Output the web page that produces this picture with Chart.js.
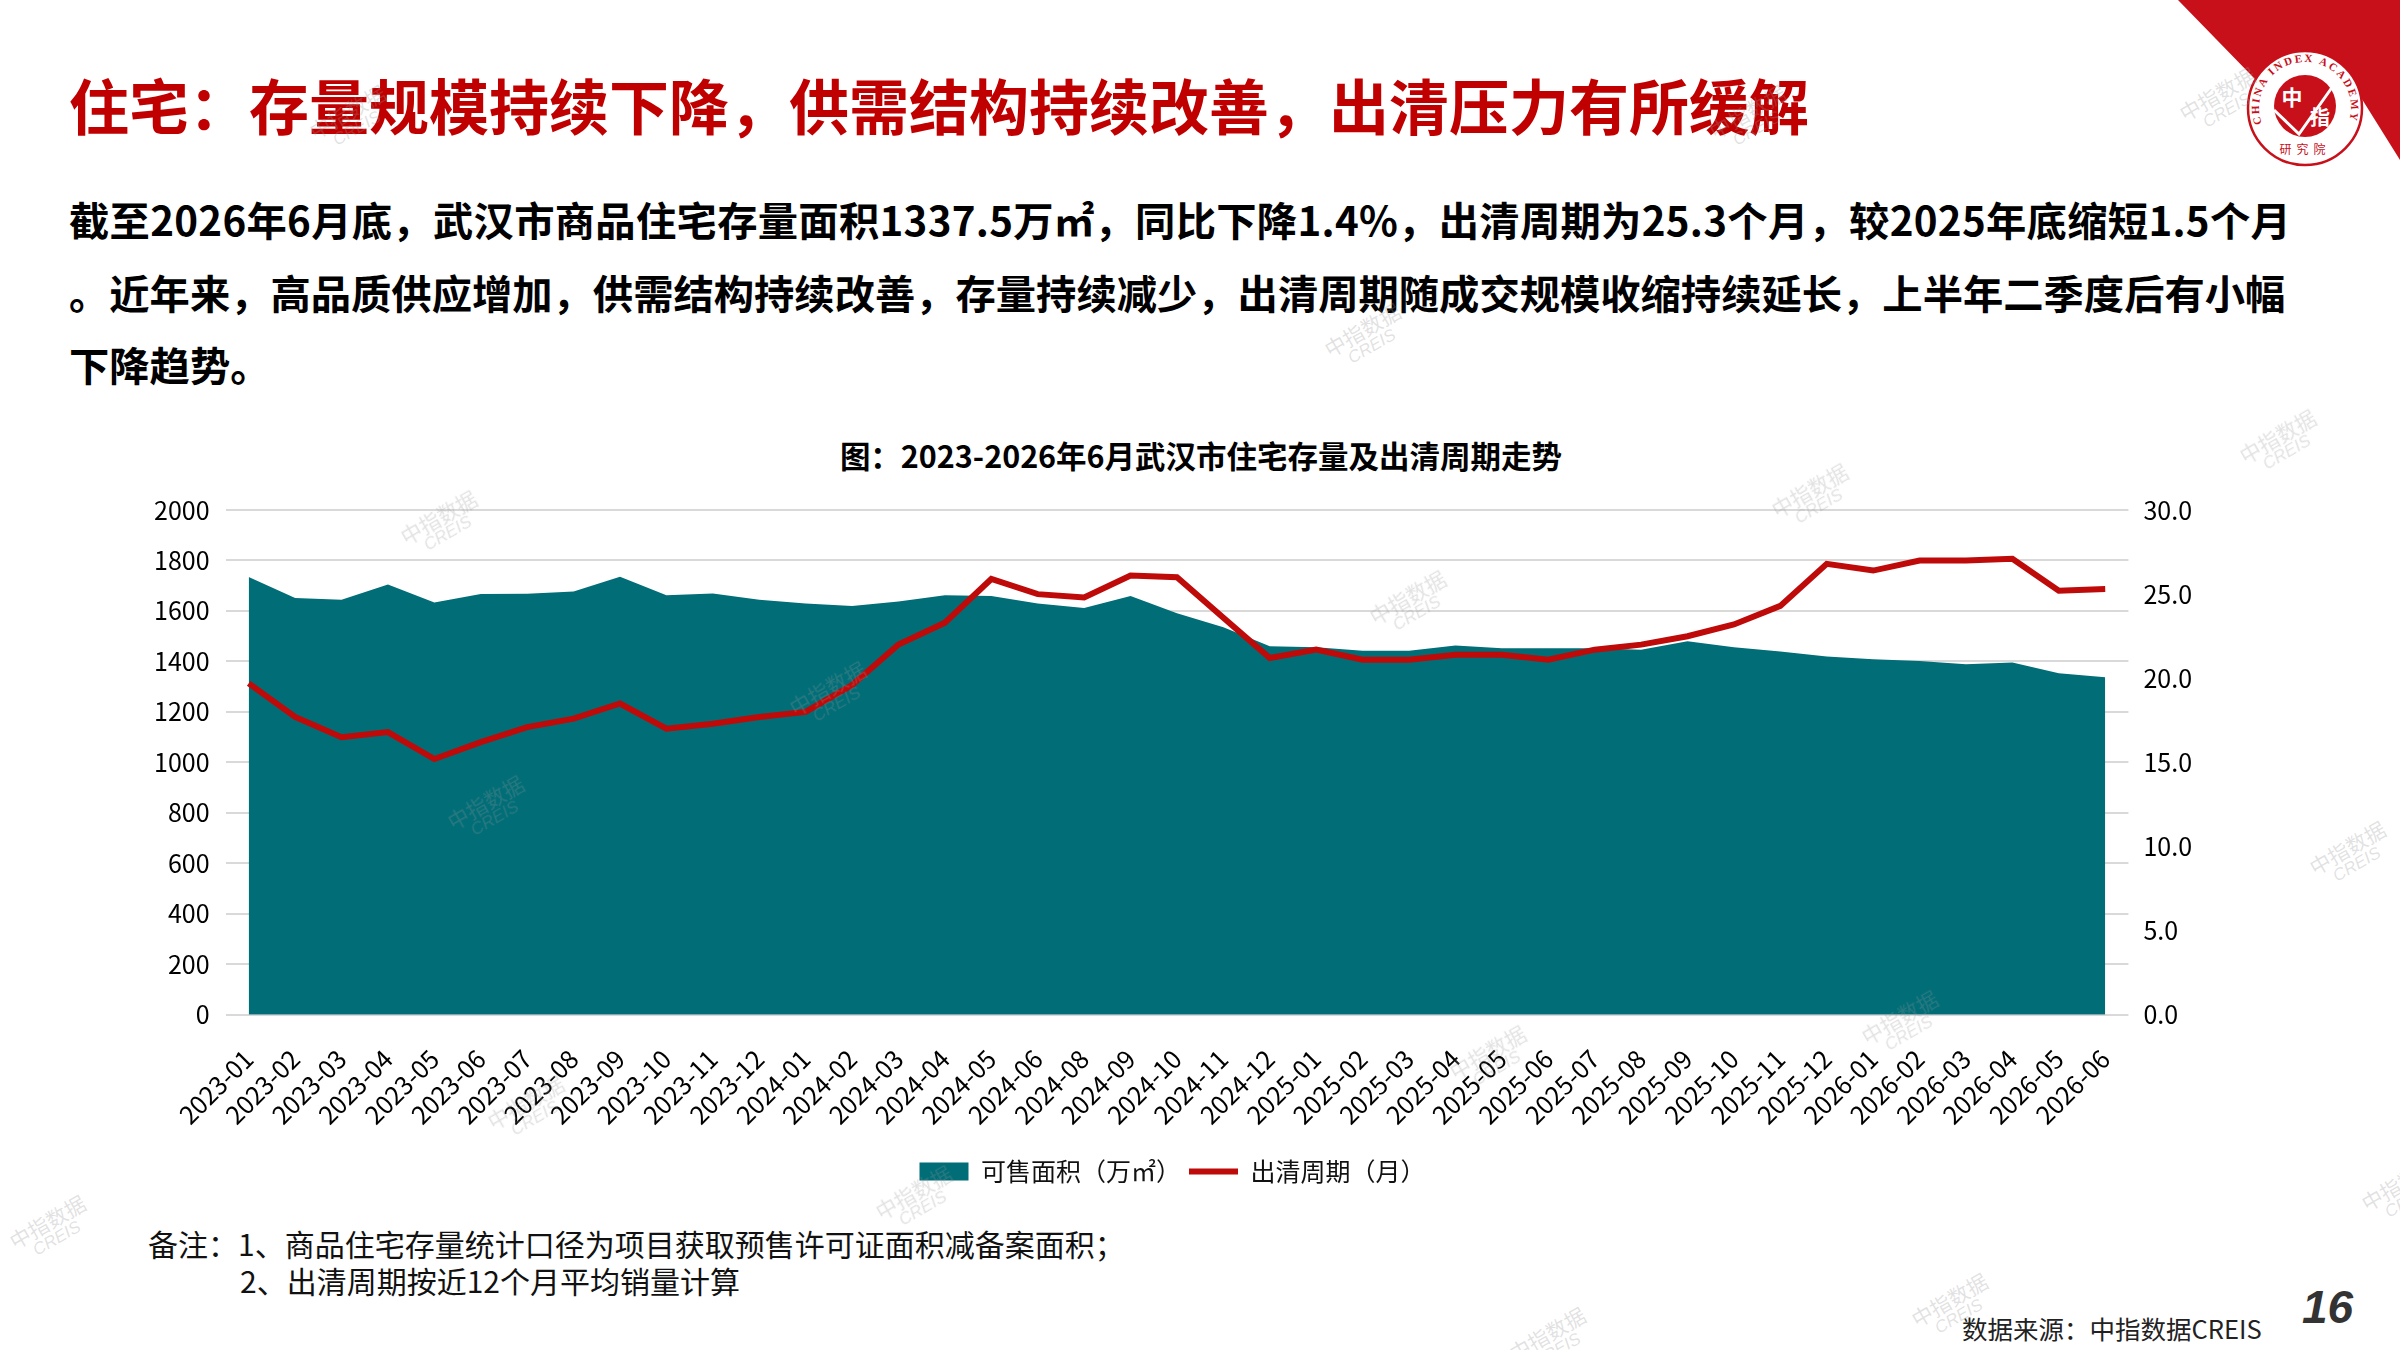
<!DOCTYPE html>
<html lang="zh-CN">
<head>
<meta charset="utf-8">
<title>武汉市住宅存量及出清周期走势</title>
<script src="https://cdn.jsdelivr.net/npm/chart.js@4.4.1/dist/chart.umd.min.js"></script>
<style>
html, body { margin: 0; padding: 0; background: #fff; }
body { width: 2400px; height: 1350px; position: relative; overflow: hidden; font-family: "Noto Sans CJK SC", sans-serif; }
.headline { position: absolute; left: 69px; top: 68px; font-size: 60px; font-weight: 700; color: #C00000; line-height: 72px; white-space: nowrap; }
.para { position: absolute; left: 69px; font-size: 40.3px; font-weight: 700; color: #000; line-height: 50px; white-space: nowrap; }
.chart-title { position: absolute; left: 0; width: 2400px; top: 436px; text-align: center; font-size: 30.5px; font-weight: 700; color: #000; line-height: 38px; }
.chart-title span { position: relative; left: 0; }
.note { position: absolute; font-size: 30px; color: #111; line-height: 36px; white-space: nowrap; }
.source { position: absolute; left: 1962px; top: 1312px; font-size: 25.5px; color: #222; line-height: 32px; white-space: nowrap; }
.page { position: absolute; left: 2302px; top: 1280px; font-family: "Liberation Sans", Arial, sans-serif; font-size: 46px; font-weight: 700; font-style: italic; color: #333; }
#chartBox { position: absolute; left: 110px; top: 470px; width: 2130px; height: 734px; }
.logo { position: absolute; left: 2150px; top: 0; }
.wm { position: absolute; color: rgba(150,150,150,0.28); font-size: 21px; line-height: 20px; text-align: center; transform: rotate(-30deg); pointer-events: none; white-space: nowrap; }
.wm span { display: block; font-family: "Liberation Sans", Arial, sans-serif; font-style: italic; font-size: 17px; }
</style>
</head>
<body>

<svg class="logo" width="250" height="200" viewBox="0 0 250 200">
  <polygon points="28,0 250,0 250,160 200,80 140,115" fill="#C8101A"/>
  <circle cx="155" cy="108" r="57" fill="#fff" stroke="#C8101A" stroke-width="2.5"/>
  <defs><path id="ring" d="M 113.3 127.4 A 46 46 0 1 1 196.7 127.4"/></defs>
  <text font-family="Liberation Serif, serif" font-weight="700" font-size="11" fill="#C8101A">
    <textPath href="#ring" startOffset="4" textLength="172" lengthAdjust="spacing">CHINA INDEX ACADEMY</textPath>
  </text>
  <circle cx="155" cy="106" r="31" fill="#C8101A"/>
  <polyline points="124,110 149,134 183,86" fill="none" stroke="#fff" stroke-width="3"/>
  <text x="142" y="105" font-size="21" font-weight="700" fill="#fff" text-anchor="middle">中</text>
  <text x="170" y="125" font-size="20" font-weight="700" fill="#fff" text-anchor="middle">指</text>
  <text x="155" y="154" font-size="12" fill="#C8101A" text-anchor="middle" letter-spacing="5">研究院</text>
</svg>

<div class="headline">住宅：存量规模持续下降，供需结构持续改善，出清压力有所缓解</div>
<div class="para" style="top:194px; letter-spacing:0.3px">截至2026年6月底，武汉市商品住宅存量面积1337.5万㎡，同比下降1.4%，出清周期为25.3个月，较2025年底缩短1.5个月</div>
<div class="para" style="top:267px">。近年来，高品质供应增加，供需结构持续改善，存量持续减少，出清周期随成交规模收缩持续延长，上半年二季度后有小幅</div>
<div class="para" style="top:339px">下降趋势。</div>

<div class="chart-title" id="chartTitle"></div>
<div id="chartBox"><canvas id="stockChart"></canvas></div>

<div class="note" style="left:148px; top:1225px">备注：1、商品住宅存量统计口径为项目获取预售许可证面积减备案面积；</div>
<div class="note" style="left:240px; top:1262px">2、出清周期按近12个月平均销量计算</div>
<div class="source">数据来源：中指数据CREIS</div>
<div class="page">16</div>

<script>
// months on the x axis (2024-07 is missing in the source chart)
const months = [
    "2023-01", "2023-02", "2023-03", "2023-04", "2023-05", "2023-06",
    "2023-07", "2023-08", "2023-09", "2023-10", "2023-11", "2023-12",
    "2024-01", "2024-02", "2024-03", "2024-04", "2024-05", "2024-06",
    "2024-08", "2024-09", "2024-10", "2024-11", "2024-12",
    "2025-01", "2025-02", "2025-03", "2025-04", "2025-05", "2025-06",
    "2025-07", "2025-08", "2025-09", "2025-10", "2025-11", "2025-12",
    "2026-01", "2026-02", "2026-03", "2026-04", "2026-05", "2026-06"
];

// 可售面积 (万㎡)
const stockArea = [
    1735, 1651, 1644, 1705, 1634, 1667, 1668, 1677, 1736, 1662, 1669, 1644,
    1630, 1620, 1637, 1662, 1659, 1630, 1612, 1659, 1591, 1535, 1460,
    1456, 1442, 1442, 1463, 1452, 1452, 1452, 1446, 1480, 1456, 1439, 1420,
    1409, 1402, 1389, 1396, 1353, 1337.5
];

// 出清周期 (月)
const clearCycle = [
    19.7, 17.7, 16.5, 16.8, 15.2, 16.2, 17.1, 17.6, 18.5, 17.0, 17.3, 17.7,
    18.0, 19.6, 22.0, 23.3, 25.9, 25.0, 24.8, 26.1, 26.0, 23.6, 21.2,
    21.7, 21.1, 21.1, 21.4, 21.4, 21.1, 21.7, 22.0, 22.5, 23.2, 24.3, 26.8,
    26.4, 27.0, 27.0, 27.1, 25.2, 25.3
];

const seriesNames = ["可售面积（万㎡）", "出清周期（月）"];
const chartTitle = "图：2023-2026年6月武汉市住宅存量及出清周期走势";

const fontFamily = '"Noto Sans CJK SC", sans-serif';

// chart title is a touch right of the page centre, as in the slide
document.getElementById("chartTitle").innerHTML =
    '<span style="left:1px">' + chartTitle + "</span>";

// watermark spots
const marks = [
    [401, 505], [448, 790], [790, 676], [1370, 585], [1325, 318], [1772, 478],
    [2240, 424], [2180, 82], [2310, 836], [1862, 1005], [1450, 1040], [876, 1180],
    [10, 1210], [1912, 1288], [1510, 1322], [2362, 1172], [488, 1090], [310, 100], [1710, 100]
];
marks.forEach(function (m) {
    const d = document.createElement("div");
    d.className = "wm";
    d.style.left = m[0] + "px";
    d.style.top = m[1] + "px";
    d.innerHTML = "中指数据<span>CREIS</span>";
    document.body.appendChild(d);
});

const stockChart = new Chart(document.getElementById("stockChart"), {
    type: "line",
    data: {
        labels: months,
        datasets: [
            {
                label: seriesNames[0],
                data: stockArea,
                yAxisID: "y",
                fill: "origin",
                backgroundColor: "#006D77",
                borderColor: "#006D77",
                borderWidth: 0,
                pointRadius: 0,
                pointStyle: "rect",
                tension: 0,
                order: 2
            },
            {
                label: seriesNames[1],
                data: clearCycle,
                yAxisID: "y1",
                fill: false,
                backgroundColor: "#BF0A0A",
                borderColor: "#BF0A0A",
                borderWidth: 6,
                pointRadius: 0,
                pointStyle: "line",
                tension: 0,
                order: 1
            }
        ]
    },
    options: {
        responsive: true,
        maintainAspectRatio: false,
        animation: false,
        layout: {
            padding: { left: 28, right: 33, top: 40, bottom: 10 }
        },
        plugins: {
            title: { display: false },
            legend: {
                position: "bottom",
                labels: {
                    usePointStyle: true,
                    pointStyleWidth: 49,
                    boxHeight: 18,
                    padding: 8,
                    color: "#111",
                    font: { family: fontFamily, size: 25 },
                    sort: function (a, b) { return a.datasetIndex - b.datasetIndex; }
                }
            },
            tooltip: { enabled: false }
        },
        scales: {
            x: {
                offset: true,
                grid: { display: false },
                border: { display: false },
                ticks: {
                    autoSkip: false,
                    maxRotation: 45,
                    minRotation: 45,
                    color: "#000",
                    font: { family: fontFamily, size: 25 },
                    padding: 21
                }
            },
            y: {
                position: "left",
                min: 0,
                max: 2000,
                ticks: {
                    stepSize: 200,
                    color: "#000",
                    font: { family: fontFamily, size: 25 },
                    padding: 16,
                    callback: function (v) { return String(v); }
                },
                grid: { color: "#D9D9D9", lineWidth: 2, drawTicks: false },
                border: { display: false }
            },
            y1: {
                position: "right",
                min: 0,
                max: 30,
                ticks: {
                    stepSize: 5,
                    color: "#000",
                    font: { family: fontFamily, size: 25 },
                    padding: 15,
                    callback: function (v) { return v.toFixed(1); }
                },
                grid: { display: false, drawTicks: false },
                border: { display: false }
            }
        }
    }
});
</script>
</body>
</html>
